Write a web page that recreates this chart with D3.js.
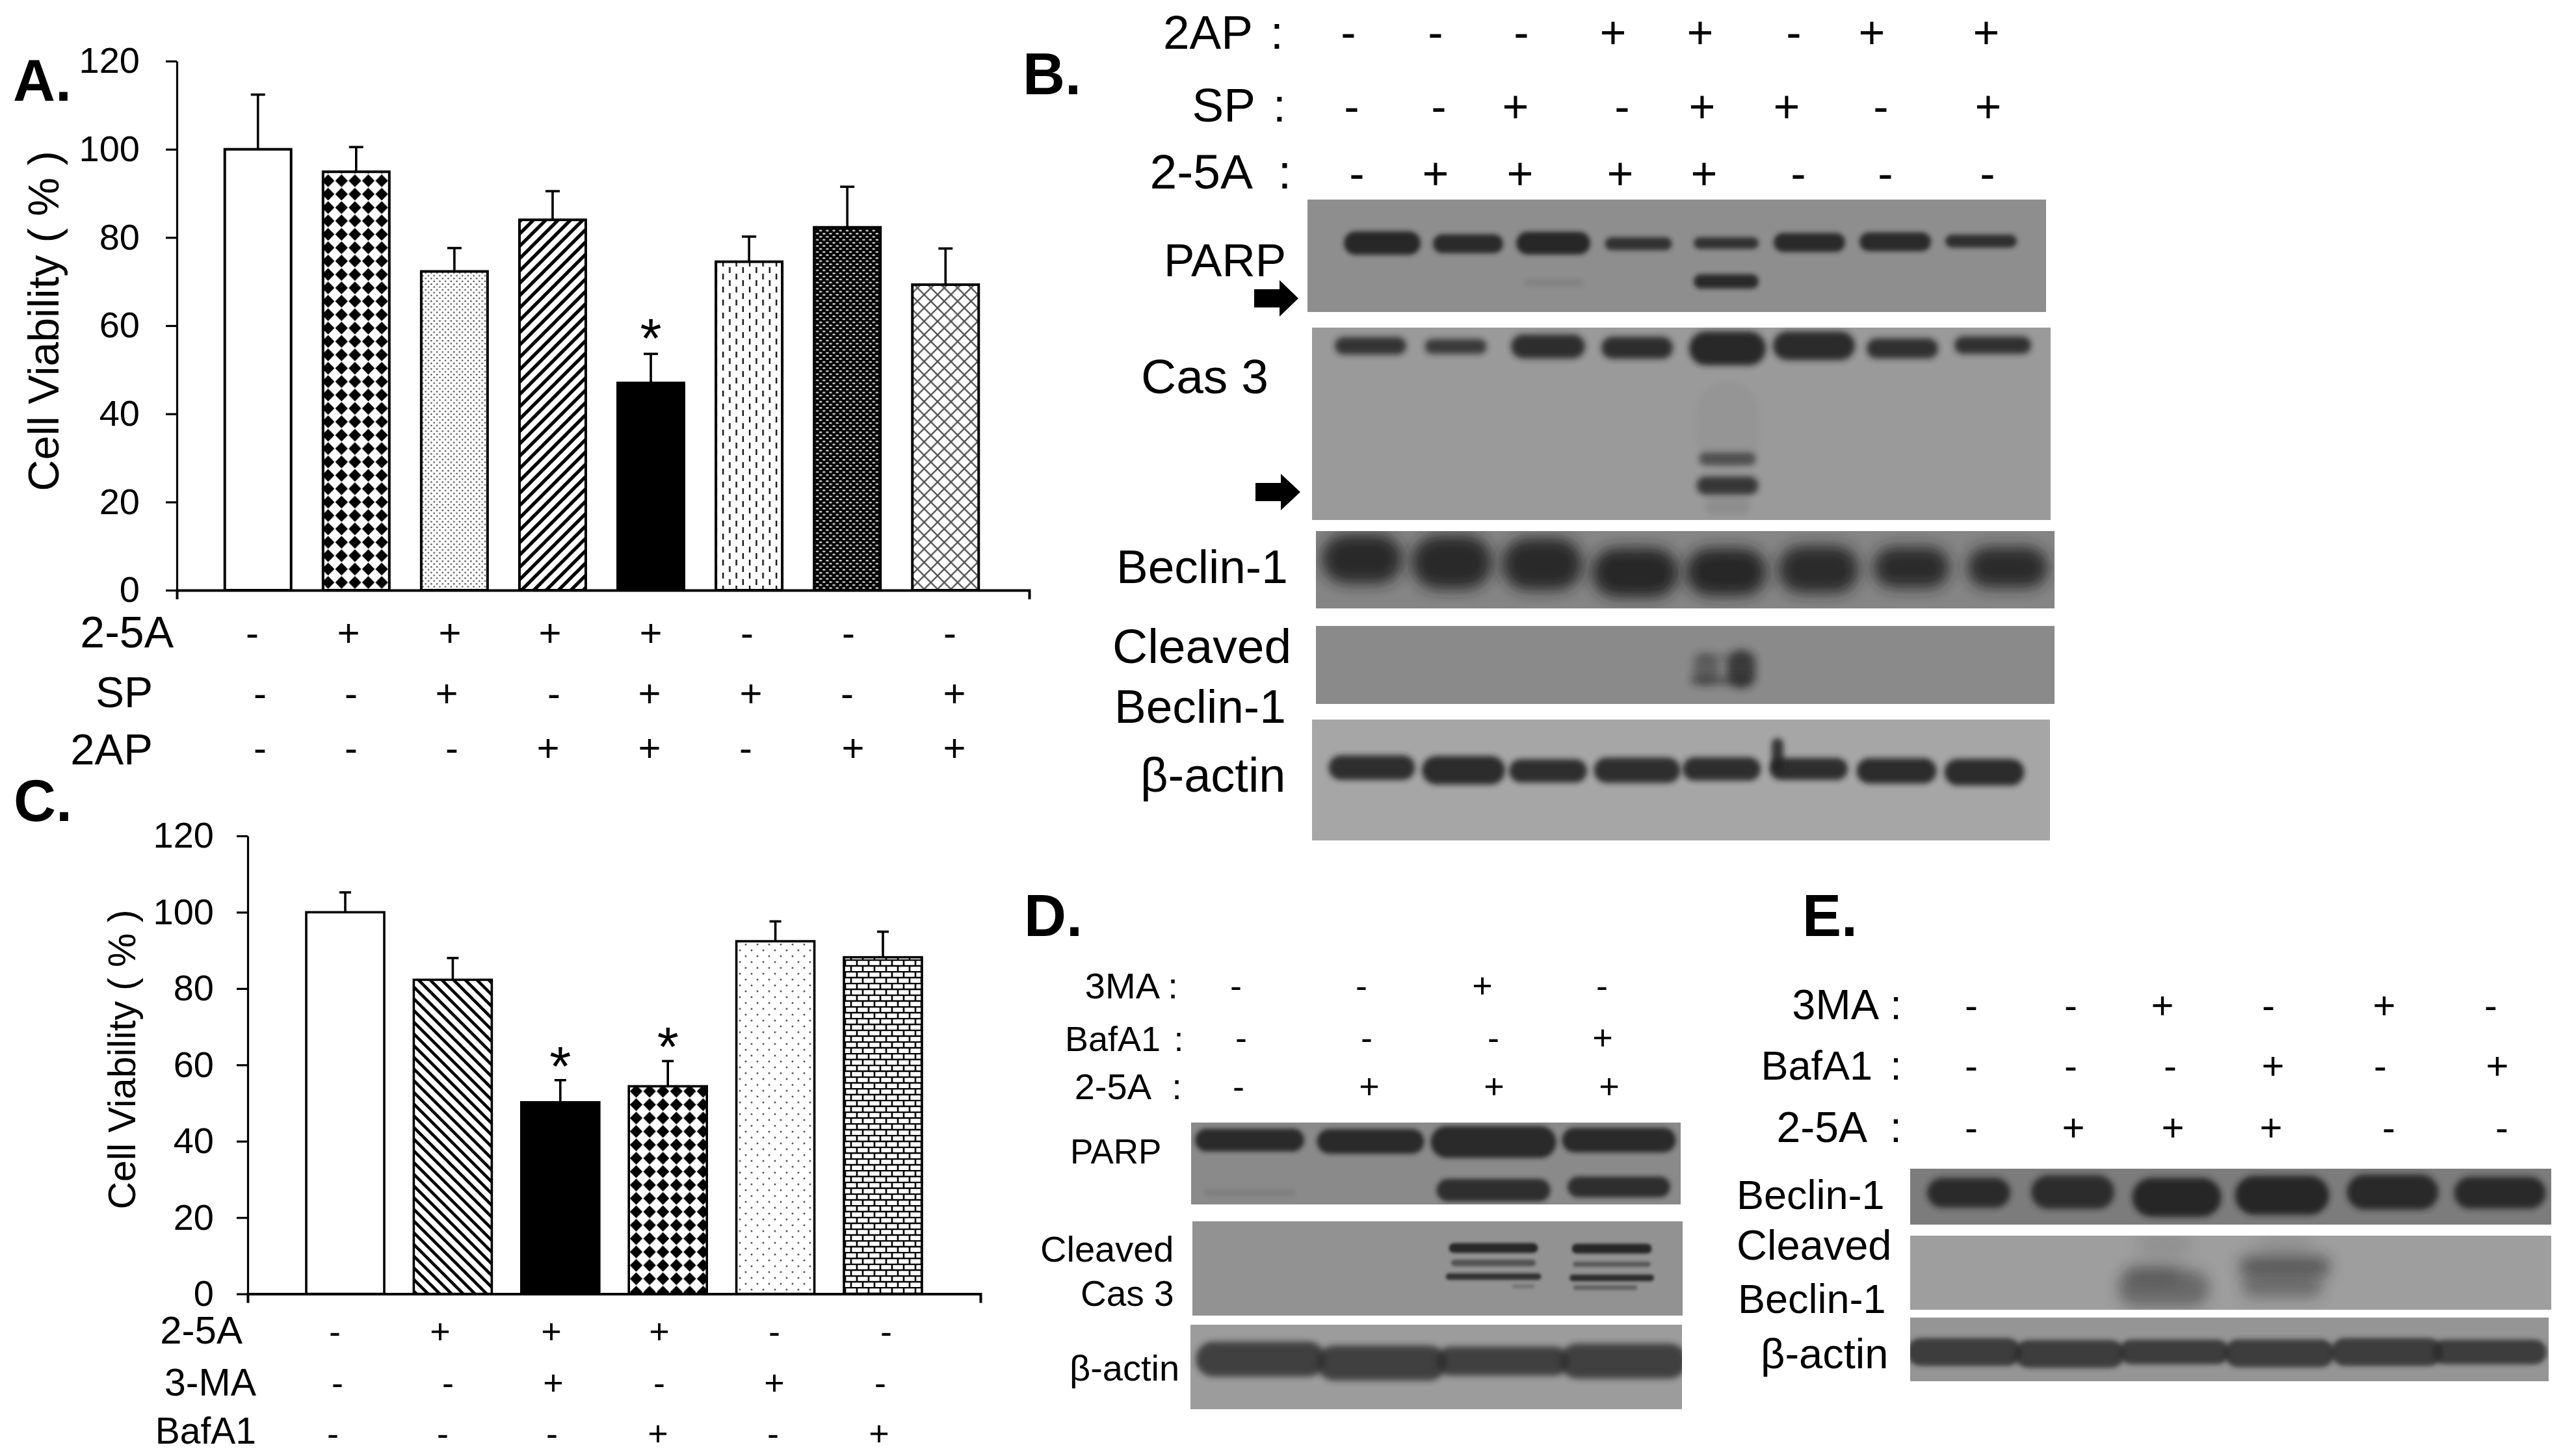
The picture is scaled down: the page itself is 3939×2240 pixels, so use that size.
<!DOCTYPE html>
<html>
<head>
<meta charset="utf-8">
<script src="https://cdnjs.cloudflare.com/ajax/libs/d3/7.8.5/d3.min.js"></script>
<style>
html,body{margin:0;padding:0;background:#fff;overflow:hidden}
svg{display:block}
text{font-family:"Liberation Sans",Arial,sans-serif;fill:#000}
</style>
</head>
<body>
<div id="chart"></div>
<script>
// ---------- DATA: panel A ----------
const groupsA = ["a1","a2","a3","a4","a5","a6","a7","a8"];
const viabilityA = [100,94.9,72.3,84,47,74.5,82.3,69.3];
const errorTopA = [112.4,100.5,77.6,90.5,53.6,80.2,91.5,77.5];
const fillsA = ["none","diamond","fine","up","solid","dash","dense","cross"];
const starsA = ["a5"];
const rowsA = ["2-5A","SP","2AP"];
const signsA = ["-++++---","--+-++-+","---++-++"];
// ---------- DATA: panel C ----------
const groupsC = ["c1","c2","c3","c4","c5","c6"];
const viabilityC = [100,82.3,50.2,54.4,92.4,88.2];
const errorTopC = [105.2,88,56,61,97.6,94.9];
const fillsC = ["none","down","solid","diamond","dots","brick"];
const starsC = ["c3","c4"];
const rowsC = ["2-5A","3-MA","BafA1"];
const signsC = ["-+++--","--+-+-","---+-+"];
const yTicks = [0,20,40,60,80,100,120];
// ---------- DATA: sign rows of the blot panels ----------
const rowsB = ["2AP","SP","2-5A"];
const signsB = ["---++-++","--+-++-+","-++++---"];
const rowsD = ["3MA","BafA1","2-5A"];
const signsD = ["--+-","---+","-+++"];
const rowsE = ["3MA","BafA1","2-5A"];
const signsE = ["--+-+-","---+-+","-+++--"];
const parpB = [[115,118,67,31,.95],[247,108,68,24,.92],[378,114,67,30,.95],[509,103,68,15,.85],[644,100,67,13,.85],[772,110,66,24,.92],[904,110,65,24,.92],[1036,110,64,15,.88],[644,100,126,17,.92],[378,90,128,12,.1]];
const cas3B = [[90,110,28,22,.85],[221,95,29,18,.8],[363,114,29,32,.9],[500,110,31,29,.9],[639,118,32,47,.95],[772,126,28,39,.92],[908,110,32,26,.88],[1047,118,27,22,.88],[639,88,202,15,.6],[639,95,243,23,.82],[639,100,150,130,.035],[639,70,275,20,.1]];
const beclinB = [[71,124,43,66,.92],[209,124,48,73,.92],[348,124,51,70,.92],[491,133,64,66,.95],[631,124,63,63,.95],[773,124,59,63,.9],[916,117,56,53,.9],[1064,124,56,53,.9]];
const cleavedB = [[654,44,66,56,.75],[600,40,66,46,.4],[624,94,84,10,.6],[629,88,49,8,.3]];
const actinB = [[92,133,74,30,.9],[233,128,78,36,.92],[363,120,79,28,.9],[500,133,78,31,.9],[630,120,76,28,.9],[764,120,76,26,.9],[716,18,54,43,.85],[899,123,79,31,.92],[1034,123,81,33,.92]];
const parpD = [[90,168,27,30,.92],[276,165,29,33,.92],[465,193,30,44,.92],[658,175,27,33,.92],[90,140,108,11,.1],[465,175,104,30,.88],[658,158,99,27,.88]];
const cleavedD = [[463,137,41,13,.95],[645,123,42,13,.95],[463,130,64,10,.55],[645,119,66,8,.5],[463,147,85,10,.85],[645,130,87,10,.9],[509,35,100,6,.25],[635,98,102,7,.45]];
const actinD = [[108,200,53,47,.8],[294,200,59,47,.8],[480,204,56,38,.8],[666,196,56,47,.8]];
const beclinE = [[90,128,37,41,.9],[250,128,36,47,.88],[410,137,44,55,.95],[572,145,41,55,.95],[742,141,36,49,.92],[907,141,37,44,.92]];
const cleavedE = [[390,141,81,49,.42],[373,83,59,16,.3],[576,141,47,25,.52],[572,124,78,27,.38],[390,83,15,30,.1],[576,83,15,30,.08]];
const actinE = [[83,176,53,38,.82],[245,170,56,38,.82],[406,170,53,33,.82],[568,170,55,38,.82],[733,172,53,38,.82],[891,176,53,33,.82]];

// ---------- LAYOUT ----------
const W = 3939, H = 2240;
const svg = d3.select("#chart").append("svg").attr("width",W).attr("height",H).attr("viewBox",[0,0,W,H]);
svg.append("rect").attr("width",W).attr("height",H).attr("fill","#fff");
const defs = svg.append("defs");

function tile(id,w,h,draw){
  const p = defs.append("pattern").attr("id",id).attr("patternUnits","userSpaceOnUse").attr("width",w).attr("height",h);
  p.append("rect").attr("width",w).attr("height",h).attr("fill","#fff");
  draw(p);
  return p;
}
tile("p-diamond",20.6,20.6,p=>p.append("path").attr("d","M10.3,0.6L20,10.3L10.3,20L0.6,10.3Z").attr("fill","#000"));
tile("p-fine",8.7,8.7,p=>{
  [[2.2,2.2],[6.55,6.55]].forEach(c=>p.append("circle").attr("cx",c[0]).attr("cy",c[1]).attr("r",1.25).attr("fill","#444"));
});
tile("p-up",19,19,p=>p.append("path").attr("d","M-5,5L5,-5M-5,24L24,-5M14,24L24,14").attr("stroke","#000").attr("stroke-width",5.2));
tile("p-down",18,18,p=>p.append("path").attr("d","M-5,13L5,23M-5,-5L23,23M13,-5L23,5").attr("stroke","#000").attr("stroke-width",4.6));
tile("p-dash",20.5,20,p=>{
  p.append("rect").attr("x",3.9).attr("y",1).attr("width",2.4).attr("height",9).attr("fill","#111");
  p.append("rect").attr("x",14.2).attr("y",11).attr("width",2.4).attr("height",9).attr("fill","#111");
});
tile("p-dense",10.2,9.4,p=>{
  p.select("rect").attr("fill","#000");
  [[2.5,2.3],[7.6,7]].forEach(c=>p.append("ellipse").attr("cx",c[0]).attr("cy",c[1]).attr("rx",2.4).attr("ry",1.2).attr("fill","#eee"));
});
tile("p-cross",20.6,20.6,p=>p.append("path").attr("d","M0,0L20.6,20.6M20.6,0L0,20.6").attr("stroke","#505050").attr("stroke-width",2.3));
tile("p-dots",18,18,p=>{
  [[4,4],[13,13]].forEach(c=>p.append("circle").attr("cx",c[0]).attr("cy",c[1]).attr("r",1.5).attr("fill","#555"));
});
tile("p-brick",18,18,p=>p.append("path").attr("d","M0,1H18M0,10H18M4,1V10M13,10V19").attr("stroke","#000").attr("stroke-width",2.6));

const fillOf = f => f==="none" ? "#fff" : f==="solid" ? "#000" : `url(#p-${f})`;

function barPanel(o){
  const y = d3.scaleLinear().domain([0,120]).range([o.y0,o.y120]);
  const x = d3.scaleBand().domain(o.groups).range(o.bandRange).paddingInner(o.padI).paddingOuter(o.padI/2);
  const g = svg.append("g");
  const pts = o.groups.map((k,i)=>({k,v:o.values[i],e:o.errs[i],f:o.fills[i]}));

  const eb = g.append("g").attr("stroke","#000");
  eb.selectAll("line.stem").data(pts).join("line").attr("class","stem")
    .attr("x1",d=>x(d.k)+x.bandwidth()/2).attr("x2",d=>x(d.k)+x.bandwidth()/2)
    .attr("y1",d=>y(d.v)).attr("y2",d=>y(d.e)).attr("stroke-width",o.stem);
  eb.selectAll("line.cap").data(pts).join("line").attr("class","cap")
    .attr("x1",d=>x(d.k)+x.bandwidth()/2-o.cap/2).attr("x2",d=>x(d.k)+x.bandwidth()/2+o.cap/2)
    .attr("y1",d=>y(d.e)).attr("y2",d=>y(d.e)).attr("stroke-width",o.stem);

  g.selectAll("rect.bar").data(pts).join("rect").attr("class","bar")
    .attr("x",d=>x(d.k)).attr("y",d=>y(d.v))
    .attr("width",x.bandwidth()).attr("height",d=>y(0)-y(d.v))
    .attr("fill",d=>fillOf(d.f)).attr("stroke","#000").attr("stroke-width",o.barStroke);

  g.selectAll("text.star").data(o.stars).join("text").attr("class","star")
    .attr("x",d=>x(d)+x.bandwidth()/2+o.starDx)
    .attr("y",d=>y(pts.find(p=>p.k===d).e)+o.starDy)
    .attr("text-anchor","middle").attr("font-size",85).text("*");

  const ya = d3.axisLeft(y).tickValues(yTicks).tickSize(17).tickSizeOuter(0).tickPadding(o.tickPad);
  const yg = g.append("g").attr("transform",`translate(${o.x0},0)`).call(ya);
  yg.selectAll("path,line").attr("stroke","#000").attr("stroke-width",3.2);
  yg.selectAll("text").attr("font-size",o.tickFont).attr("font-family",'"Liberation Sans"').attr("fill","#000");

  const xs = d3.scaleLinear().domain([0,1]).range([o.x0,o.xEnd]);
  const xa = d3.axisBottom(xs).tickValues([]).tickSizeOuter(14);
  const xg = g.append("g").attr("transform",`translate(0,${o.y0})`).call(xa);
  xg.selectAll("path").attr("stroke","#000").attr("stroke-width",4).attr("fill","none");

  g.append("text").attr("transform",`translate(${o.titleX},${o.titleY}) rotate(-90)`)
    .attr("text-anchor","middle").attr("font-size",o.titleFont).attr("fill","#262626").text("Cell Viability ( % )");
}

barPanel({groups:groupsA,values:viabilityA,errs:errorTopA,fills:fillsA,stars:starsA,
  y0:908,y120:94,x0:272,xEnd:1583,bandRange:[321.2,1529.8],padI:.325,stem:3.6,cap:22,barStroke:4,
  starDx:0,starDy:6,tickPad:40,tickFont:56,titleX:90,titleY:494,titleFont:67});
barPanel({groups:groupsC,values:viabilityC,errs:errorTopC,fills:fillsC,stars:starsC,
  y0:1990.6,y120:1286,x0:381,xEnd:1508,bandRange:[448.3,1440.7],padI:.2745,stem:3.6,cap:18,barStroke:3.6,
  starDx:0,starDy:8,tickPad:35,tickFont:56,titleX:208,titleY:1630,titleFont:59});

// ---------- row labels and +/- signs ----------
function rows(list){
  const g = svg.append("g");
  list.forEach(r=>{
    g.append("text").attr("x",r.right).attr("y",r.base).attr("text-anchor","end").attr("font-size",r.font).text(r.name);
    if(r.colon!=null) g.append("text").attr("x",r.colon).attr("y",r.base).attr("text-anchor","middle").attr("font-size",r.font).text(":");
    g.selectAll(null).data(r.signs.split("").map((s,i)=>({s,x:r.xs[i]}))).join("text")
      .attr("x",d=>d.x).attr("y",r.signBase).attr("text-anchor","middle").attr("font-size",r.signFont)
      .text(d=>d.s);
  });
}
rows([
 {name:rowsA[0],right:267,base:996,font:68,signs:signsA[0],signBase:994,signFont:60,xs:[388,536,692,846,1001,1149,1305,1461]},
 {name:rowsA[1],right:235,base:1088,font:66,signs:signsA[1],signBase:1087,signFont:60,xs:[400,540,687,852,999,1155,1303,1468]},
 {name:rowsA[2],right:235,base:1176,font:67,signs:signsA[2],signBase:1171,signFont:60,xs:[400,540,695,843,999,1147,1312,1468]},
 {name:rowsC[0],right:373,base:2067,font:60,signs:signsC[0],signBase:2067,signFont:54,xs:[515,677,848,1014,1191,1363]},
 {name:rowsC[1],right:394,base:2147,font:59,signs:signsC[1],signBase:2146,signFont:54,xs:[519,689,851,1014,1191,1354]},
 {name:rowsC[2],right:394,base:2221,font:57,signs:signsC[2],signBase:2224,signFont:54,xs:[512,681,849,1012,1189,1352]},
 {name:rowsB[0],right:1927,base:75,font:73,colon:1964,signs:signsB[0],signBase:74,signFont:70,xs:[2074,2208,2340,2481,2615,2759,2879,3055]},
 {name:rowsB[1],right:1931,base:187,font:73,colon:1968,signs:signsB[1],signBase:188,signFont:70,xs:[2079,2213,2331,2495,2618,2748,2893,3058]},
 {name:rowsB[2],right:1927,base:290,font:75,colon:1976,signs:signsB[2],signBase:291,signFont:70,xs:[2087,2208,2338,2492,2621,2766,2900,3057]},
 {name:rowsD[0],right:1784,base:1536,font:56,colon:1804,signs:signsD[0],signBase:1535,signFont:54,xs:[1901,2094,2280,2464]},
 {name:rowsD[1],right:1785,base:1617,font:54,colon:1813,signs:signsD[1],signBase:1615,signFont:54,xs:[1909,2102,2297,2465]},
 {name:rowsD[2],right:1771,base:1691,font:56,colon:1810,signs:signsD[2],signBase:1690,signFont:54,xs:[1905,2106,2298,2475]},
 {name:rowsE[0],right:2890,base:1568,font:65,colon:2916,signs:signsE[0],signBase:1567,signFont:60,xs:[3032,3185,3326,3489,3667,3831]},
 {name:rowsE[1],right:2880,base:1661,font:63,colon:2916,signs:signsE[1],signBase:1660,signFont:60,xs:[3032,3185,3338,3496,3661,3841]},
 {name:rowsE[2],right:2872,base:1757,font:66,colon:2916,signs:signsE[2],signBase:1755,signFont:60,xs:[3032,3189,3342,3493,3674,3848]}
]);

// ---------- panel letters ----------
[["A.",20,155],["B.",1573,145],["C.",21,1263],["D.",1575,1440],["E.",2772,1440]].forEach(l=>
  svg.append("text").attr("x",l[1]).attr("y",l[2]).attr("font-size",90).attr("font-weight",700).text(l[0]));

// ---------- blot labels ----------
[["PARP",1790,425,71],["Cas 3",1755,605,75],["Beclin-1",1717,897,73],["Cleaved",1711,1020,75],["Beclin-1",1714,1112,73],["β-actin",1754,1218,74],
 ["PARP",1646,1790,53],["Cleaved",1600,1941,56],["Cas 3",1662,2009,55],["β-actin",1645,2124,56],
 ["Beclin-1",2671,1860,63],["Cleaved",2671,1938,65],["Beclin-1",2673,2020,63],["β-actin",2708,2105,65]].forEach(l=>
  svg.append("text").attr("x",l[1]).attr("y",l[2]).attr("font-size",l[3]).text(l[0]));

// ---------- blots ----------
let blotId = 0;
function blot(bands,x0,y0,w,h,bg,blur,grow,ink){
  const id = "b"+(blotId++);
  const fx = defs.append("filter").attr("id",id+"f").attr("x","-50%").attr("y","-150%").attr("width","200%").attr("height","400%");
  fx.append("feGaussianBlur").attr("stdDeviation",blur);
  defs.append("clipPath").attr("id",id+"c").append("rect").attr("x",x0).attr("y",y0).attr("width",w).attr("height",h);
  const gx = d3.scaleLinear().domain([0,w]).range([x0,x0+w]);
  const gy = d3.scaleLinear().domain([0,h]).range([y0,y0+h]);
  const thick = d => d[3] + (d[3]>=13 ? grow : 0);
  const g = svg.append("g");
  g.append("rect").attr("x",x0).attr("y",y0).attr("width",w).attr("height",h).attr("fill",bg);
  g.append("g").attr("clip-path",`url(#${id}c)`).append("g")
    .selectAll("rect").data(bands).join("rect")
    .attr("x",d=>gx(d[0]-d[1]/2)).attr("y",d=>gy(d[2]-thick(d)/2))
    .attr("width",d=>gx(d[1])-gx(0)).attr("height",d=>gy(thick(d))-gy(0))
    .attr("rx",d=>Math.min(d[1],thick(d))/2)
    .attr("fill",ink||"#242424").attr("opacity",d=>d[4])
    .attr("filter",`url(#${id}f)`);
}
blot(parpB,2011,307,1136,173,"#8e8e8e",3.5,5);
blot(cas3B,2018,504,1136,296,"#9a9a9a",5,5);
blot(beclinB,2024,817,1136,119,"#858585",11,10);
blot(cleavedB,2024,963,1136,120,"#8a8a8a",7,2);
blot(actinB,2018,1107,1135,186,"#a6a6a6",4,8);
blot(parpD,1832,1727,753,126,"#8a8a8a",3.5,5);
blot(cleavedD,1834,1879,754,145,"#929292",2.2,2);
blot(actinD,1831,2038,756,130,"#9c9c9c",5,7,"#2c2c2c");
blot(beclinE,2938,1798,986,86,"#7c7c7c",5,5);
blot(cleavedE,2938,1901,986,114,"#9e9e9e",11,8);
blot(actinE,2938,2027,982,98,"#959595",3.5,5,"#2c2c2c");

// ---------- arrows ----------
const arrow = d3.line();
[[1929,1997,459],[1931,2000,757]].forEach(a=>{
  const head = a[0]+39;
  svg.append("path").attr("fill","#000").attr("d",arrow([
    [a[0],a[2]-14],[head,a[2]-14],[head,a[2]-28],[a[1],a[2]],[head,a[2]+28],[head,a[2]+14],[a[0],a[2]+14]
  ])+"Z");
});
</script>
</body>
</html>
